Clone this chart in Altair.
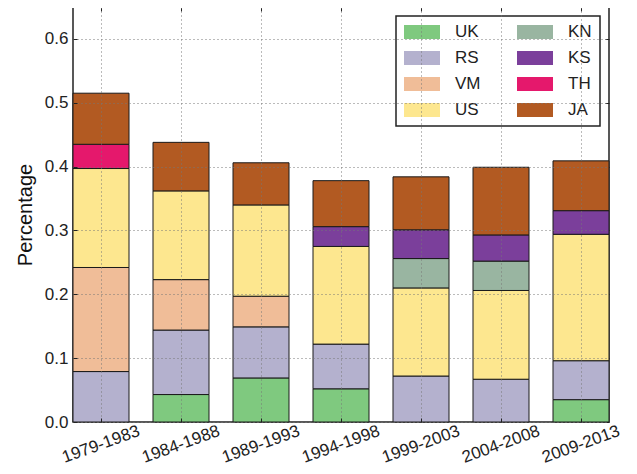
import altair as alt
import pandas as pd

periods = ["1979-1983", "1984-1988", "1989-1993", "1994-1998",
           "1999-2003", "2004-2008", "2009-2013"]
countries = ["UK", "RS", "VM", "US", "KN", "KS", "TH", "JA"]
colors = ["#7fc97f", "#b4b1ce", "#f0bd98", "#fde78f",
          "#99b5a1", "#7b3f9b", "#e5186c", "#b25a22"]
yticks = [0, 0.1, 0.2, 0.3, 0.4, 0.5, 0.6]

UK = [0.000, 0.043, 0.069, 0.052, 0.000, 0.000, 0.035]
RS = [0.079, 0.101, 0.080, 0.070, 0.072, 0.067, 0.061]
VM = [0.163, 0.079, 0.048, 0.000, 0.000, 0.000, 0.000]
US = [0.155, 0.139, 0.143, 0.153, 0.138, 0.139, 0.198]
KN = [0.000, 0.000, 0.000, 0.000, 0.046, 0.046, 0.000]
KS = [0.000, 0.000, 0.000, 0.031, 0.045, 0.041, 0.037]
TH = [0.038, 0.000, 0.000, 0.000, 0.000, 0.000, 0.000]
JA = [0.080, 0.076, 0.066, 0.072, 0.083, 0.106, 0.078]

series = {"UK": UK, "RS": RS, "VM": VM, "US": US,
          "KN": KN, "KS": KS, "TH": TH, "JA": JA}

rows = []
for k, c in enumerate(countries):
    for p, v in zip(periods, series[c]):
        if v > 0:
            rows.append({"period": p, "country": c, "value": v, "ord": k})
df = pd.DataFrame(rows)

font = "Liberation Sans"
xscale = alt.Scale(paddingInner=0.3, paddingOuter=0)
yscale = alt.Scale(domain=[0, 0.65], nice=False, zero=True)

bars = alt.Chart(df).mark_bar(stroke="#1a1a1a", strokeWidth=1).encode(
    x=alt.X("period:N", sort=periods, scale=xscale,
            axis=alt.Axis(title=None, orient="bottom", labelAngle=-20,
                          labelAlign="center", labelBaseline="middle",
                          labelPadding=22, labelFontSize=17, labelColor="#222",
                          ticks=True, tickSize=4, tickColor="#222", offset=-4,
                          domain=False, grid=True, bandPosition=0.5,
                          labelBound=False,
                          gridDash=[1, 3], gridColor="#777", gridWidth=1,
                          zindex=1)),
    y=alt.Y("value:Q", stack="zero", scale=yscale,
            axis=alt.Axis(title="Percentage", orient="left", values=yticks,
                          format=".1f", labelFontSize=17, labelColor="#222",
                          labelPadding=5, ticks=True, tickSize=4,
                          tickColor="#222", offset=-4, domain=False,
                          titleFontSize=20, titleFontWeight="normal",
                          titleColor="#111", titlePadding=9,
                          gridDash=[1, 3], gridColor="#777", gridWidth=1,
                          zindex=1)),
    color=alt.Color("country:N",
                    scale=alt.Scale(domain=countries, range=colors),
                    legend=alt.Legend(title=None, orient="none", legendX=323, legendY=9,
                                      columns=2, columnPadding=36, rowPadding=9,
                                      clipHeight=16,
                                      symbolType="M-1,-0.389H1V0.389H-1Z",
                                      symbolSize=1296, symbolStrokeWidth=0,
                                      symbolOpacity=1, labelOffset=15,
                                      labelFontSize=17, labelColor="#222",
                                      labelFont=font, padding=8,
                                      strokeColor="#222", fillColor="white",
                                      cornerRadius=0)),
    order=alt.Order("ord:Q", sort="ascending"),
)

# invisible layer carrying the inward ticks on the top and right frame edges
frame_ticks = alt.Chart(df).mark_bar(opacity=0).encode(
    x=alt.X("period:N", sort=periods, scale=xscale,
            axis=alt.Axis(title=None, orient="top", labels=False, ticks=True,
                          tickSize=4, tickColor="#222", offset=-4,
                          domain=False, grid=False, bandPosition=0.5)),
    y=alt.Y("value:Q", stack="zero", scale=yscale,
            axis=alt.Axis(title=None, orient="right", values=yticks,
                          labels=False, ticks=True, tickSize=4,
                          tickColor="#222", offset=-4, domain=False,
                          grid=False)),
)

chart = alt.layer(bars, frame_ticks).resolve_axis(
    x="independent", y="independent"
).properties(
    width=536, height=415,
    autosize=alt.AutoSizeParams(type="none"),
    padding={"left": 65, "top": -1, "right": 20, "bottom": 44},
).configure(font=font).configure_view(
    stroke="#222", strokeWidth=1.5
).configure_legend(strokeWidth=1.5)

chart.save("out.html", embed_options={"renderer": "svg", "actions": False})
